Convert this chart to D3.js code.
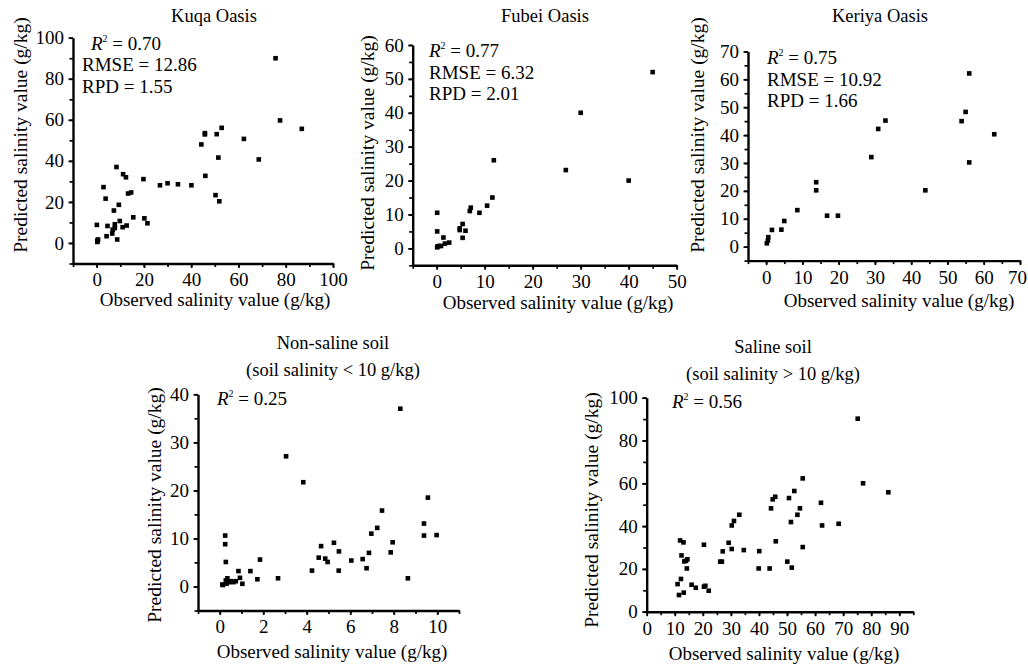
<!DOCTYPE html>
<html>
<head>
<meta charset="utf-8">
<script src="https://cdn.jsdelivr.net/npm/d3@7"></script>
<style>
  body { margin: 0; background: #fff; }
  svg text { fill: #000; }
</style>
</head>
<body>
<div id="chart"></div>
<script>
// observed, predicted (g/kg)
const kuqaPoints = [
  [0.3,0.5],[0.3,0.9],[0.4,1.3],[0.6,1.7],[0.1,8.8],[2.9,27.2],[3.8,21.6],[4.2,3.3],[4.6,8.3],
  [6.6,4.6],[6.8,6.5],[7.7,7.3],[7.7,9.1],[7.3,15.8],[8.4,37],[8.7,1.7],[9.4,18.6],[9.8,10.7],
  [11,7.7],[11.2,33.5],[12.4,32],[12.7,8.5],[13.3,24.1],[14.6,24.6],[15.5,12.5],[19.8,31.1],
  [20.2,12],[21.5,9.6],[26.8,28.1],[30,29.1],[34.4,28.6],[40.1,28.1],[44.3,48],[45.8,53.5],
  [45.8,52.9],[46,32.7],[50.3,23.3],[50.8,53],[51.5,41.6],[51.9,20.3],[52.9,56.1],[62.3,50.7],
  [68.6,40.7],[75.7,90],[77.6,59.7],[86.8,55.6]
];
const fubeiPoints = [
  [0.1,0.3],[0.2,0.6],[0.5,0.7],[0.9,0.7],[0.1,5],[0.1,10.5],[1.4,3.2],[1.7,1.4],[2.6,1.7],
  [4.8,5.9],[4.8,5.4],[5.4,3.1],[5.4,7.2],[6.0,5.2],[6.9,11],[7.1,12],[8.9,10.5],[10.5,12.6],
  [11.6,15],[11.9,26],[26.9,23.1],[30,40],[40,20],[45,52]
];
const keriyaPoints = [
  [0.2,1.2],[0.5,2.2],[0.6,3.4],[1.6,6],[4.2,6.1],[5,9.2],[8.6,13.1],[13.8,23.1],[13.8,20.2],
  [16.8,11.1],[19.8,11.1],[29,32.1],[30.9,42.2],[32.9,45.2],[43.9,20.2],[53.9,45],[55,48.3],
  [56,62.1],[56,30.2],[62.9,40.3]
];
const nonSalinePoints = [
  [0.15,0.3],[0.28,1.25],[0.35,1.7],[0.43,0.9],[0.52,1.1],[0.63,0.9],[0.74,1.1],[0.32,0.6],
  [0.12,0.4],[0.25,10.6],[0.25,8.8],[0.28,5.1],[0.86,3.2],[0.93,1.8],[1.04,0.56],[1.41,3.2],
  [1.73,1.5],[1.85,5.6],[2.68,1.7],[3.05,27.1],[3.84,21.7],[4.24,3.3],[4.55,6.0],[4.66,8.4],
  [4.85,5.8],[4.96,5.1],[5.25,9.1],[5.47,3.3],[5.48,7.3],[6.05,5.4],[6.57,5.7],[6.75,3.8],
  [6.86,7.0],[6.97,11],[7.24,12.2],[7.46,15.8],[7.86,7.1],[7.95,9.2],[8.3,37],[8.65,1.7],
  [9.39,13.1],[9.39,10.6],[9.57,18.5],[9.97,10.7]
];
const salinePoints = [
  [75.2,90.2],[77.1,60],[86.1,55.8],[55.6,62.3],[52.6,56.4],[50.7,53.1],[44.9,52.5],[45.8,53.7],
  [44.3,48.3],[54.6,48.3],[53.7,45.3],[62.1,50.9],[62.5,40.3],[68.4,41.1],[51.4,41.9],[55.6,30.2],
  [46,32.9],[50.1,23.4],[51.7,20.6],[43.8,20.2],[39.9,20.2],[40.1,28.3],[34.6,28.8],[30.3,29.3],
  [27.1,28.2],[26.2,23.4],[26.8,23.4],[29.2,32.2],[30.3,40.3],[31.1,42.4],[33,45.3],[20.4,31.3],
  [20.4,11.7],[20.9,12.1],[22.1,9.8],[17.5,11.2],[16,12.6],[14.5,24.5],[13.4,23.5],[14.3,20.2],
  [14,23.8],[12.4,26.3],[11.9,33.3],[13.1,32.4],[12.2,15.3],[11,12.9],[11.5,7.8],[13.2,8.9]
];

const panelTitles = ["Kuqa Oasis", "Fubei Oasis", "Keriya Oasis",
  ["Non-saline soil", "(soil salinity < 10 g/kg)"], ["Saline soil", "(soil salinity > 10 g/kg)"]];
const r2Values = ["0.70", "0.77", "0.75", "0.25", "0.56"];
const rmseValues = ["12.86", "6.32", "10.92"];
const rpdValues = ["1.55", "2.01", "1.66"];

const kuqaXTicks = [0, 20, 40, 60, 80, 100];
const kuqaYTicks = [0, 20, 40, 60, 80, 100];
const fubeiXTicks = [0, 10, 20, 30, 40, 50];
const fubeiYTicks = [0, 10, 20, 30, 40, 50, 60];
const keriyaXTicks = [0, 10, 20, 30, 40, 50, 60, 70];
const keriyaYTicks = [0, 10, 20, 30, 40, 50, 60, 70];
const nonSalineXTicks = [0, 2, 4, 6, 8, 10];
const nonSalineYTicks = [0, 10, 20, 30, 40];
const salineXTicks = [0, 10, 20, 30, 40, 50, 60, 70, 80, 90];
const salineYTicks = [0, 20, 40, 60, 80, 100];

const xLabel = "Observed salinity value (g/kg)";
const yLabel = "Predicted salinity value (g/kg)";
const FONT = "'Liberation Serif','Times New Roman',Times,serif";

const svg = d3.select("#chart").append("svg")
  .attr("width", 1028)
  .attr("height", 666);

function range(a, b, s) {
  return d3.range(a, b + s / 2, s);
}

const panels = [
  { pts: kuqaPoints, xd: [-10, 100], yd: [-10, 100], left: 73, right: 333, top: 37.7, bottom: 263.5,
    xt: kuqaXTicks, yt: kuqaYTicks, xm: range(-10, 100, 10), ym: range(-10, 100, 10),
    titleX: 214, titleY: 22, annX: 82, r2X: 91, annY: 49.5, xlabX: 215, xlabY: 306, ylabX: 27, ylabY: 135 },
  { pts: fubeiPoints, xd: [-5, 50], yd: [-5, 60], left: 412.7, right: 676.7, top: 45, bottom: 265.3,
    xt: fubeiXTicks, yt: fubeiYTicks, xm: range(-5, 50, 5), ym: range(-5, 60, 5),
    titleX: 545, titleY: 22, annX: 429, r2X: 429, annY: 57, xlabX: 558, xlabY: 309, ylabX: 374, ylabY: 153 },
  { pts: keriyaPoints, xd: [-5, 70], yd: [-5, 70], left: 748, right: 1020, top: 51.4, bottom: 260.6,
    xt: keriyaXTicks, yt: keriyaYTicks, xm: range(-5, 70, 5), ym: range(-5, 70, 5),
    titleX: 880, titleY: 22, annX: 767, r2X: 767, annY: 64, xlabX: 899, xlabY: 307, ylabX: 704, ylabY: 135 },
  { pts: nonSalinePoints, xd: [-1, 11], yd: [-5, 40], left: 198, right: 459, top: 394.3, bottom: 610.5,
    xt: nonSalineXTicks, yt: nonSalineYTicks, xm: range(-1, 11, 1), ym: range(-5, 40, 5),
    titleX: 333, titleY: 349, annX: 217, r2X: 217, annY: 405, xlabX: 332, xlabY: 658, ylabX: 161, ylabY: 505 },
  { pts: salinePoints, xd: [0, 95], yd: [0, 100], left: 646.7, right: 913.3, top: 397.7, bottom: 611.7,
    xt: salineXTicks, yt: salineYTicks, xm: range(0, 95, 5), ym: range(0, 100, 10),
    titleX: 773, titleY: 353, annX: 672, r2X: 672, annY: 408, xlabX: 784, xlabY: 660, ylabX: 598, ylabY: 510 }
];

function styleAxis(sel, fs) {
  sel.attr("font-family", FONT).attr("font-size", fs);
  sel.selectAll(".tick line").attr("stroke", "#000").attr("stroke-width", 1.7);
  sel.select(".domain").attr("stroke", "#000").attr("stroke-width", 2.4);
  sel.selectAll("text").attr("fill", "#000");
}

panels.forEach((p, i) => {
  const g = svg.append("g");
  const x = d3.scaleLinear().domain(p.xd).range([p.left, p.right]);
  const y = d3.scaleLinear().domain(p.yd).range([p.bottom, p.top]);

  // minor ticks
  g.append("g")
    .attr("transform", `translate(0,${p.bottom})`)
    .call(d3.axisBottom(x).tickValues(p.xm).tickSize(3.5).tickFormat(""))
    .call(s => { styleAxis(s, 19); s.select(".domain").remove(); });
  g.append("g")
    .attr("transform", `translate(${p.left},0)`)
    .call(d3.axisLeft(y).tickValues(p.ym).tickSize(3.5).tickFormat(""))
    .call(s => { styleAxis(s, 19); s.select(".domain").remove(); });

  // major ticks + labels
  g.append("g")
    .attr("transform", `translate(0,${p.bottom})`)
    .call(d3.axisBottom(x).tickValues(p.xt).tickSize(4.5).tickSizeOuter(0).tickPadding(5).tickFormat(d3.format("d")))
    .call(s => styleAxis(s, 19))
    .call(s => s.selectAll(".tick text").each(function () {
      const b = this.getBoundingClientRect();
      if (b.right > 1027) d3.select(this).attr("dx", 1027 - b.right);
    }));
  g.append("g")
    .attr("transform", `translate(${p.left},0)`)
    .call(d3.axisLeft(y).tickValues(p.yt).tickSize(4.5).tickSizeOuter(0).tickPadding(4.5).tickFormat(d3.format("d")))
    .call(s => styleAxis(s, 19));

  // points
  g.selectAll("rect.pt")
    .data(p.pts)
    .enter()
    .append("rect")
    .attr("class", "pt")
    .attr("x", d => x(d[0]) - 2.3)
    .attr("y", d => y(d[1]) - 2.3)
    .attr("width", 4.6)
    .attr("height", 4.6)
    .attr("fill", "#000");

  // title
  const title = Array.isArray(panelTitles[i]) ? panelTitles[i] : [panelTitles[i]];
  title.forEach((t, k) => {
    g.append("text")
      .attr("x", p.titleX)
      .attr("y", p.titleY + k * 27)
      .attr("text-anchor", "middle")
      .attr("font-family", FONT)
      .attr("font-size", 18.5)
      .text(t);
  });

  // annotation
  const r2 = g.append("text")
    .attr("x", p.r2X)
    .attr("y", p.annY)
    .attr("font-family", FONT)
    .attr("font-size", 19);
  r2.append("tspan").attr("font-style", "italic").text("R");
  r2.append("tspan").attr("font-size", 10).attr("dy", -8).text("2");
  r2.append("tspan").attr("dy", 8).text(" = " + r2Values[i]);
  if (i < 3) {
    g.append("text")
      .attr("x", p.annX).attr("y", p.annY + 21.5)
      .attr("font-family", FONT).attr("font-size", 19)
      .text("RMSE = " + rmseValues[i]);
    g.append("text")
      .attr("x", p.annX).attr("y", p.annY + 43)
      .attr("font-family", FONT).attr("font-size", 19)
      .text("RPD = " + rpdValues[i]);
  }

  // axis labels
  g.append("text")
    .attr("x", p.xlabX)
    .attr("y", p.xlabY)
    .attr("text-anchor", "middle")
    .attr("font-family", FONT)
    .attr("font-size", 19)
    .text(xLabel);
  g.append("text")
    .attr("transform", `translate(${p.ylabX},${p.ylabY}) rotate(-90)`)
    .attr("text-anchor", "middle")
    .attr("font-family", FONT)
    .attr("font-size", 19.5)
    .text(yLabel);
});
</script>
</body>
</html>
